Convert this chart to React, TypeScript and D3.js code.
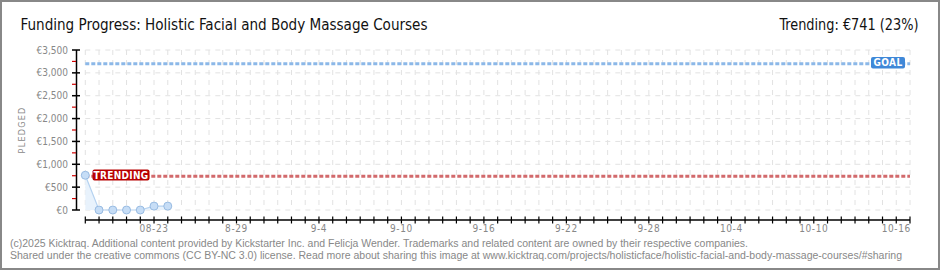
import React from "react";
import * as d3 from "d3";

const dates = ["2025-08-18", "2025-08-19", "2025-08-20", "2025-08-21", "2025-08-22", "2025-08-23", "2025-08-24"];
const pledged = [760, 0, 0, 0, 0, 85, 85];
const goal = 3200;
const trending = 741;
const yTicks = [0, 500, 1000, 1500, 2000, 2500, 3000, 3500];
const yTickLabels = ["€0", "€500", "€1,000", "€1,500", "€2,000", "€2,500", "€3,000", "€3,500"];
const xLabelDates = ["2025-08-23", "2025-08-29", "2025-09-04", "2025-09-10", "2025-09-16", "2025-09-22", "2025-09-28", "2025-10-04", "2025-10-10", "2025-10-16"];
const xLabels = ["08-23", "8-29", "9-4", "9-10", "9-16", "9-22", "9-28", "10-4", "10-10", "10-16"];
const domainStart = "2025-08-18";
const domainEnd = "2025-10-17";

const W = 940;
const H = 270;
const parse = d3.timeParse("%Y-%m-%d");

export default function App() {
  const x = d3.scaleTime().domain([parse(domainStart)!, parse(domainEnd)!]).range([85.3, 910]);
  const y = d3.scaleLinear().domain([0, 3500]).range([210, 50]);
  const days = d3.timeDay.range(parse(domainStart)!, d3.timeDay.offset(parse(domainEnd)!, 1));
  const pts = dates.map((d, i) => ({ d: parse(d)!, v: pledged[i] }));
  const line = d3.line<{ d: Date; v: number }>().x((p) => x(p.d)).y((p) => y(p.v));
  const area = d3.area<{ d: Date; v: number }>().x((p) => x(p.d)).y0(y(0)).y1((p) => y(p.v));
  const minor = d3.range(250, 3500, 500);
  const font = "'DejaVu Sans Condensed', 'DejaVu Sans', sans-serif";
  const footFont = "'Liberation Sans', Arial, sans-serif";
  const gridColor = "#e2e2e2";
  const [x0, x1] = x.range();

  return (
    <div style={{ position: "absolute", left: 0, top: 0 }}>
      <svg width={W} height={H} style={{ display: "block", background: "#fff" }}>
        <rect x={1} y={1} width={W - 2} height={H - 2} fill="#fff" stroke="#888" strokeWidth={2} />
        {/* grid */}
        {days.map((d, i) => (
          <line key={"vg" + i} x1={x(d)} x2={x(d)} y1={50} y2={210} stroke={gridColor} strokeWidth={1} strokeDasharray="5,5" />
        ))}
        {yTicks.map((t) => (
          <line key={"hg" + t} x1={x0} x2={x1} y1={y(t)} y2={y(t)} stroke={gridColor} strokeWidth={1} strokeDasharray="5,5" />
        ))}
        {/* goal line */}
        <line x1={x0} x2={x1} y1={y(goal)} y2={y(goal)} stroke="#8cb8e8" strokeWidth={3} strokeDasharray="4,2" />
        {/* trending line */}
        <line x1={x0} x2={x1} y1={y(trending)} y2={y(trending)} stroke="#d26a6c" strokeWidth={3} strokeDasharray="4,2" />
        {/* area + line */}
        <path d={area(pts)!} fill="#e8f2fc" />
        <path d={line(pts)!} fill="none" stroke="#b5d2f0" strokeWidth={1.2} />
        {pts.map((p, i) => (
          <circle key={"pt" + i} cx={x(p.d)} cy={y(p.v)} r={4} fill="#c6ddf6" stroke="#98bbe2" strokeWidth={1} />
        ))}
        {/* goal label */}
        <rect x={871} y={57} width={34} height={11.5} rx={2} fill="#3f88d8" />
        <text x={888} y={66.2} textAnchor="middle" fill="#fff" fontFamily={font} fontSize={10} fontWeight="bold" letterSpacing={0.4}>GOAL</text>
        {/* trending label */}
        <rect x={92.5} y={169.5} width={57} height={11} rx={2} fill="#b80000" />
        <text x={121} y={178.8} textAnchor="middle" fill="#fff" fontFamily={font} fontSize={10} fontWeight="bold" letterSpacing={0.3}>TRENDING</text>
        {/* y axis */}
        <line x1={76.5} x2={76.5} y1={50} y2={210} stroke="#000" strokeWidth={1.5} />
        {yTicks.map((t) => (
          <line key={"yt" + t} x1={72} x2={80} y1={y(t)} y2={y(t)} stroke="#000" strokeWidth={1.5} />
        ))}
        {minor.map((t) => (
          <line key={"ym" + t} x1={72} x2={76} y1={y(t)} y2={y(t)} stroke="#d00000" strokeWidth={1.2} />
        ))}
        {yTicks.map((t, i) => (
          <text key={"yl" + t} x={68} y={y(t) + 3.5} textAnchor="end" fill="#888" fontFamily={font} fontSize={10}>{yTickLabels[i]}</text>
        ))}
        <text transform="translate(24.5,130) rotate(-90)" textAnchor="middle" fill="#888" fontFamily={font} fontSize={9} letterSpacing={1.2}>PLEDGED</text>
        {/* x axis */}
        <line x1={x0} x2={x1} y1={220} y2={220} stroke="#000" strokeWidth={1.5} />
        {days.map((d, i) => (
          <line key={"xt" + i} x1={x(d)} x2={x(d)} y1={216.5} y2={223.5} stroke="#000" strokeWidth={1.2} />
        ))}
        {xLabelDates.map((d, i) => (
          <text key={"xl" + i} x={x(parse(d)!)} y={232} textAnchor="middle" fill="#888" fontFamily={font} fontSize={10} letterSpacing={0.6}>{xLabels[i]}</text>
        ))}
        {/* title */}
        <text x={20.5} y={30} fill="#111" fontFamily={font} fontSize={16} textLength={407} lengthAdjust="spacingAndGlyphs">Funding Progress: Holistic Facial and Body Massage Courses</text>
        <text x={779.5} y={30} fill="#111" fontFamily={font} fontSize={16} textLength={139} lengthAdjust="spacingAndGlyphs">Trending: €741 (23%)</text>
        {/* footer */}
        <text x={10} y={247} fill="#888" fontFamily={footFont} fontSize={10} textLength={738} lengthAdjust="spacingAndGlyphs">(c)2025 Kicktraq. Additional content provided by Kickstarter Inc. and Felicja Wender. Trademarks and related content are owned by their respective companies.</text>
        <text x={10} y={259} fill="#888" fontFamily={footFont} fontSize={10} textLength={892} lengthAdjust="spacingAndGlyphs">Shared under the creative commons (CC BY-NC 3.0) license. Read more about sharing this image at www.kicktraq.com/projects/holisticface/holistic-facial-and-body-massage-courses/#sharing</text>
      </svg>
    </div>
  );
}
